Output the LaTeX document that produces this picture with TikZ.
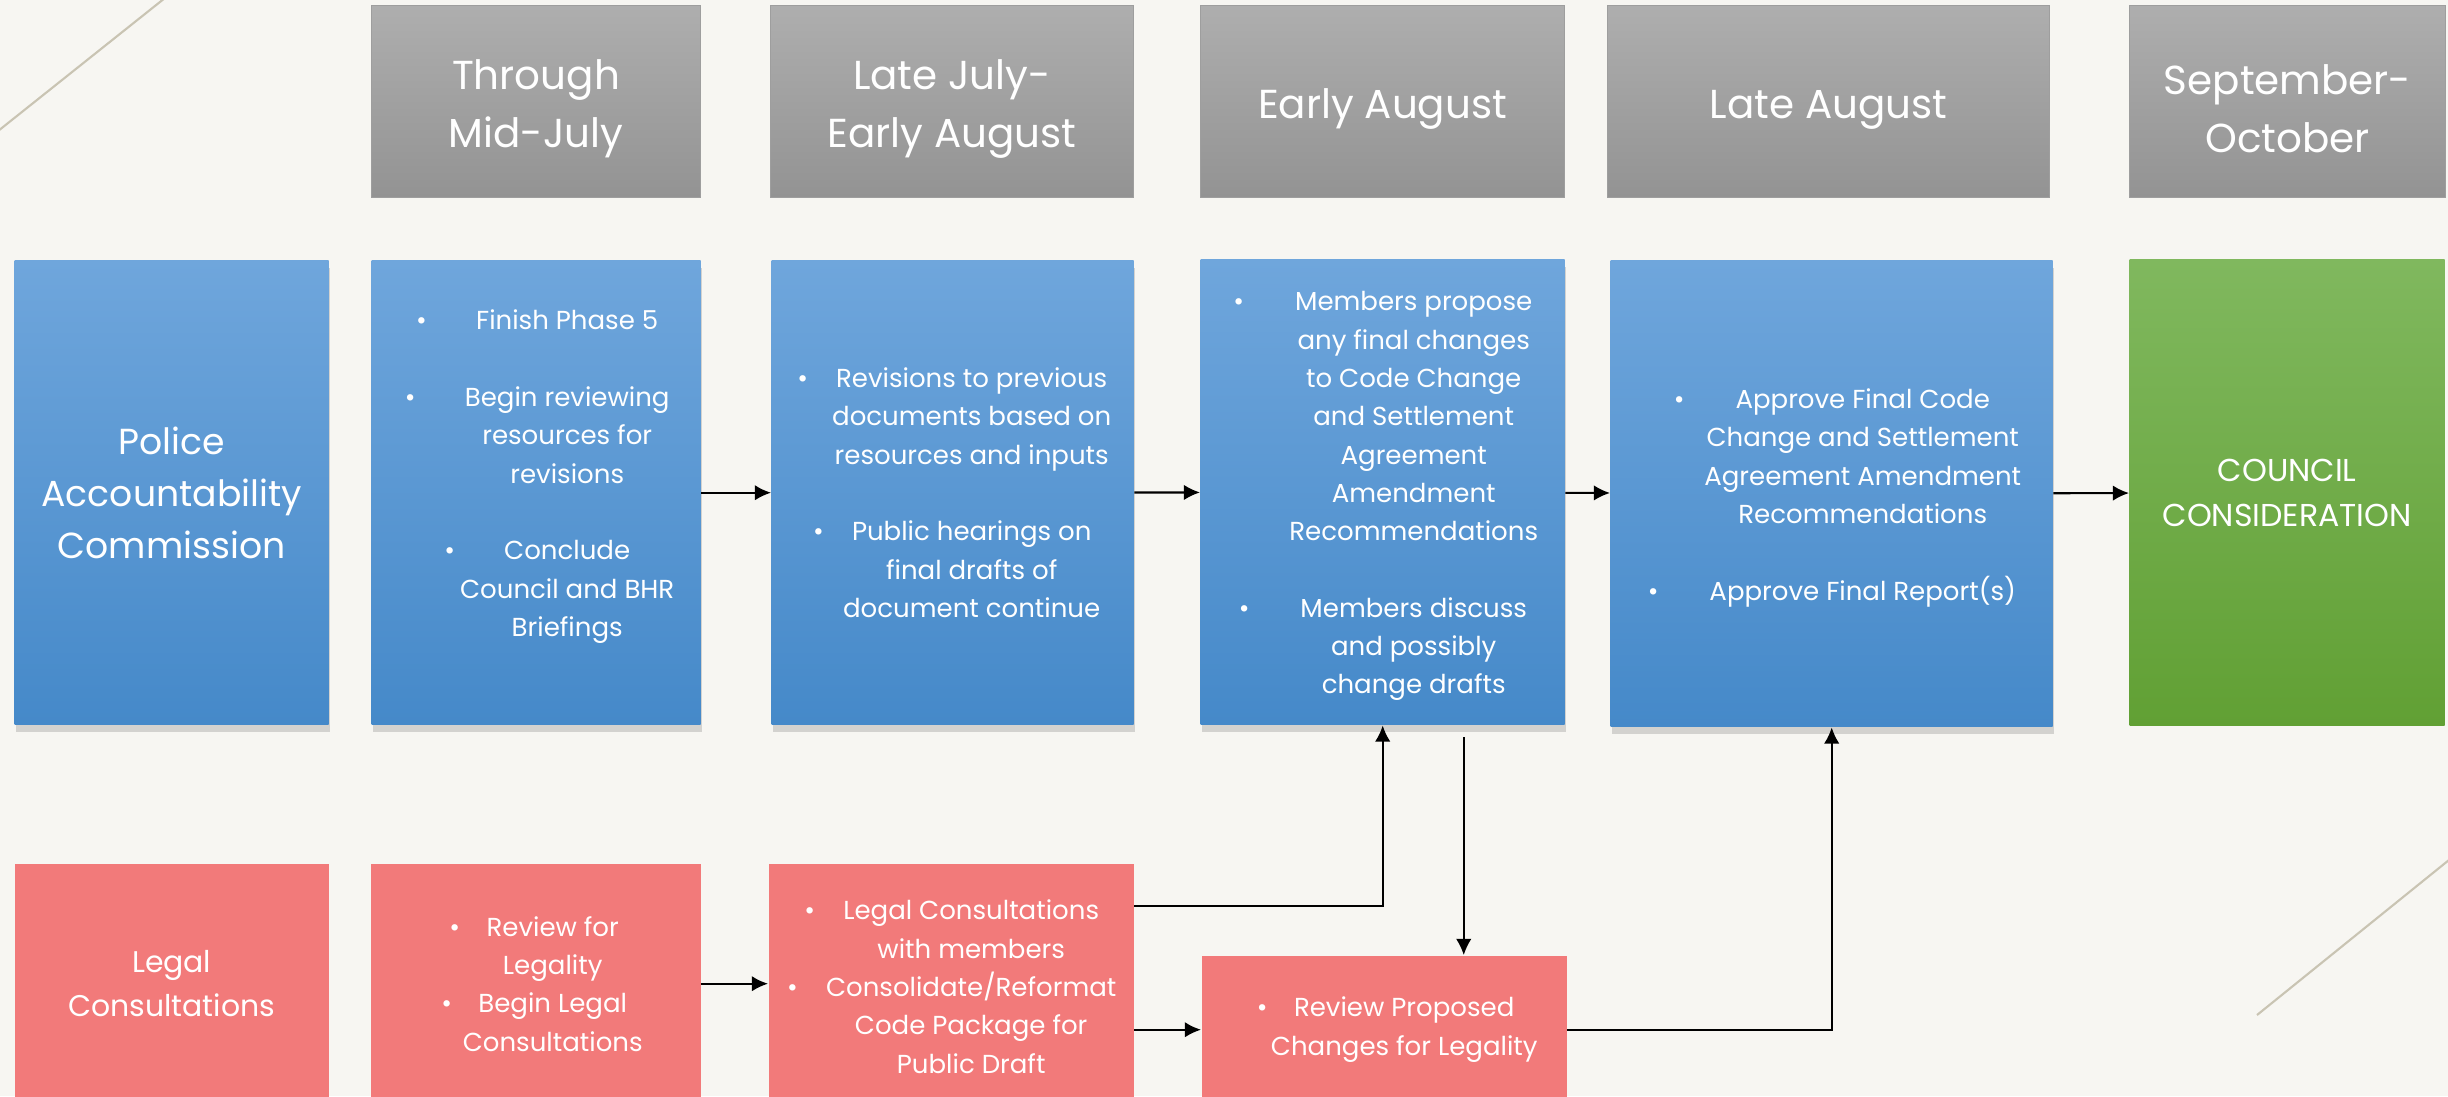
\documentclass[tikz,border=0pt]{standalone}
\usepackage{fontspec}
\setmainfont{Poppins}
\usetikzlibrary{shadows,arrows.meta}
\definecolor{paper}{HTML}{F7F6F2}
\definecolor{streak}{HTML}{C9C4B3}
\definecolor{headtop}{HTML}{AEAEAE}
\definecolor{headbot}{HTML}{939393}
\definecolor{bluetop}{HTML}{6FA6DC}
\definecolor{bluebot}{HTML}{4589C9}
\definecolor{greentop}{HTML}{80B85E}
\definecolor{greenbot}{HTML}{61A034}
\definecolor{pink}{HTML}{F27A7A}
\newcommand\bul[1]{\llap{\textbullet\hspace{#1}}}
\newcommand\hup{\rule{0pt}{12.8pt}}
\newcommand\btext[3]{\node[itemtext] (#1t) at ([#2]#1.center) {#3};}

\begin{document}
\begin{tikzpicture}[x=0.01cm,y=-0.01cm,
  every node/.style={text=white,inner sep=0pt},
  sz/.style 2 args={anchor=north west,minimum width=#1*0.01cm,minimum height=#2*0.01cm},
  headbox/.style={top color=headtop,bottom color=headbot,draw=headbot!90,line width=0.3pt,
    align=center,font=\fontsize{11.5}{16.5}\selectfont},
  bluebox/.style={top color=bluetop,bottom color=bluebot,
    drop shadow={shadow xshift=0.4pt,shadow yshift=-2.2pt,opacity=0.3}},
  greenbox/.style={top color=greentop,bottom color=greenbot,align=center,
    font=\fontsize{9}{12.8}\selectfont},
  pinkbox/.style={fill=pink},
  itemtext/.style={align=center,font=\fontsize{7.4}{10.9}\selectfont},
  flow/.style={-{Latex[length=4.6pt,width=4.4pt]},line width=0.6pt}]
\useasboundingbox (0,0) rectangle (2448,1096);
\clip (0,0) rectangle (2448,1096);
\fill[paper] (0,0) rectangle (2448,1096);
\draw[streak,line width=0.6pt] (175,-10) -- (-12,139);
\draw[streak,line width=0.6pt] (2470,843) -- (2257,1015);

\node[headbox,sz={329}{192}] (thru) at (371,5) {\hup Through\\Mid-July};
\node[headbox,sz={363}{192}] (lateJuly) at (770,5) {\hup Late July-\\Early August};
\node[headbox,sz={364}{192}] (earlyAug) at (1200,5) {\hup Early August};
\node[headbox,sz={442}{192}] (lateAug) at (1607,5) {\hup Late August};
\node[headbox,sz={316}{192}] (septOct) at (2129,5) {\hup September-\\October};

\node[bluebox,sz={314}{464},align=center,font=\fontsize{10.3}{14.7}\selectfont] (pac) at (14,260)
  {Police\\Accountability\\Commission};
\node[bluebox,sz={329}{464}] (phase) at (371,260) {};
\node[bluebox,sz={362}{464}] (revise) at (771,260) {};
\node[bluebox,sz={364}{465}] (propose) at (1200,259) {};
\node[bluebox,sz={442}{466}] (approve) at (1610,260) {};
\node[greenbox,sz={315}{466}] (council) at (2129,259) {COUNCIL\\CONSIDERATION};

\node[pinkbox,sz={314}{240},align=center,font=\fontsize{8.5}{12.4}\selectfont] (legal) at (14,863)
  {Legal\\Consultations};
\node[pinkbox,sz={330}{240}] (review) at (370,863) {};
\node[pinkbox,sz={365}{240}] (consult) at (768,863) {};
\node[pinkbox,sz={365}{148}] (legality) at (1201,955) {};

\btext{phase}{xshift=0.31cm,yshift=0.16cm}{\bul{14pt}Finish Phase 5\\[10.9pt]
  \bul{14pt}Begin reviewing\\resources for\\revisions\\[10.9pt]
  \bul{14pt}Conclude\\Council and BHR\\Briefings}
\btext{revise}{xshift=0.19cm}{\bul{8pt}Revisions to previous\\documents based on\\resources and inputs\\[10.9pt]
  \bul{8pt}Public hearings on\\final drafts of\\document continue}
\btext{propose}{xshift=0.31cm,yshift=-0.04cm}{\bul{14.5pt}Members propose\\any final changes\\to Code Change\\and Settlement\\Agreement\\Amendment\\Recommendations\\[10.9pt]
  \bul{14.5pt}Members discuss\\and possibly\\change drafts}
\btext{approve}{xshift=0.31cm,yshift=-0.04cm}{\bul{14.5pt}Approve Final Code\\Change and Settlement\\Agreement Amendment\\Recommendations\\[10.9pt]
  \bul{14.5pt}Approve Final Report(s)}
\btext{review}{xshift=0.17cm}{\bul{7.5pt}Review for\\Legality\\\bul{7.5pt}Begin Legal\\Consultations}
\btext{consult}{xshift=0.2cm,yshift=-0.03cm}{\bul{8pt}Legal Consultations\\with members\\\bul{8pt}Consolidate/Reformat\\Code Package for\\Public Draft}
\btext{legality}{xshift=0.2cm}{\bul{7.5pt}Review Proposed\\Changes for Legality}

\draw[flow] (phase) -- (revise);
\draw[flow] (revise) -- (propose);
\draw[flow] (propose) -- (approve);
\draw[flow] (approve) -- (council);
\draw[flow] (review) -- (consult);
\draw[flow] (consult.east |- legality.west) -- (legality);
\draw[flow] ([yshift=-0.43cm]consult.north east) -| (propose.south);
\coordinate (drop) at ([xshift=0.81cm,yshift=-0.12cm]propose.south);
\draw[flow,line width=0.45pt] (drop) -- (drop |- legality.north);
\draw[flow] (legality) -| (approve.south);
\end{tikzpicture}
\end{document}
